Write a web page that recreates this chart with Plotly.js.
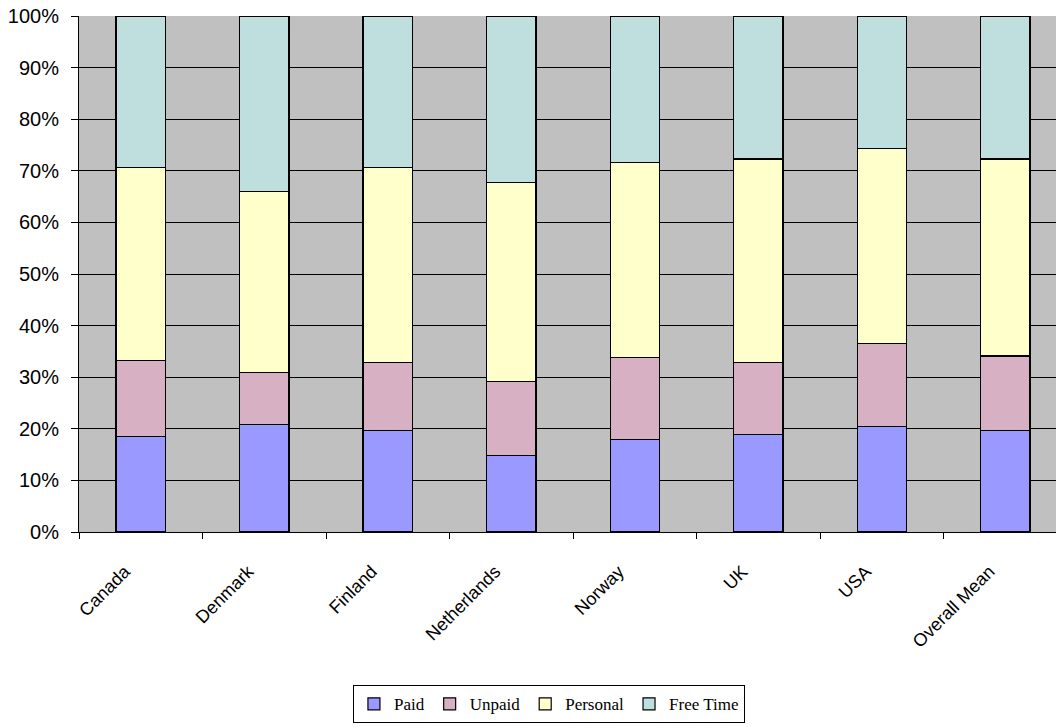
<!DOCTYPE html>
<html>
<head>
<meta charset="utf-8">
<script src="https://cdn.plot.ly/plotly-3.0.1.min.js"></script>
<style>html,body{margin:0;padding:0;background:#fff;}#chart{width:1056px;height:727px;}</style>
</head>
<body>
<div id="chart"></div>
<script>
const categories = ["Canada", "Denmark", "Finland", "Netherlands", "Norway", "UK", "USA", "Overall Mean"];
const paid     = [18.5, 20.9, 19.7, 14.8, 17.9, 18.9, 20.4, 19.7];
const unpaid   = [14.8, 10.0, 13.2, 14.4, 15.9, 14.0, 16.2, 14.4];
const personal = [37.3, 35.1, 37.8, 38.5, 37.8, 39.4, 37.8, 38.2];
const freeTime = [29.4, 34.0, 29.3, 32.3, 28.4, 27.7, 25.6, 27.7];
const seriesNames = ["Paid", "Unpaid", "Personal", "Free Time"];
const seriesColors = ["#9999FF", "#D8B0C4", "#FFFFCC", "#BFDFDF"];
const seriesValues = [paid, unpaid, personal, freeTime];

const traces = seriesValues.map((vals, i) => ({
  type: "bar",
  name: seriesNames[i],
  x: categories,
  y: vals,
  marker: {color: seriesColors[i], line: {color: "#000", width: 1.2}},
  hoverinfo: "skip"
}));

const layout = {
  width: 1056, height: 727,
  barmode: "stack",
  bargap: 0.6,
  paper_bgcolor: "#fff",
  plot_bgcolor: "#C0C0C0",
  margin: {l: 79, r: 0, t: 16, b: 195},
  font: {family: "Liberation Sans, Arial, sans-serif", color: "#000"},
  xaxis: {
    type: "category",
    range: [-0.5, 7.41],
    tickangle: -45,
    tickson: "boundaries",
    ticks: "outside", ticklen: 6, tickcolor: "#000", tickwidth: 1,
    showline: true, linecolor: "#000", linewidth: 1,
    showgrid: false,
    ticklabelstandoff: 21,
    ticklabelshift: -16,
    tickfont: {size: 18, family: "Liberation Sans, Arial, sans-serif"},
    fixedrange: true
  },
  yaxis: {
    range: [0, 100],
    dtick: 10,
    ticksuffix: "%",
    ticks: "outside", ticklen: 7, tickcolor: "#000",
    showline: true, linecolor: "#000", linewidth: 1,
    showgrid: true, gridcolor: "#000", gridwidth: 1,
    zeroline: false,
    ticklabelstandoff: 8,
    tickfont: {size: 20, family: "Liberation Sans, Arial, sans-serif"},
    fixedrange: true
  },
  legend: {
    orientation: "h",
    x: 0.481, xanchor: "center",
    y: -0.297, yanchor: "top",
    bordercolor: "#000", borderwidth: 1,
    itemwidth: 30,
    font: {family: "Liberation Serif, Times New Roman, serif", size: 17},
    traceorder: "normal"
  },
  showlegend: true
};

Plotly.newPlot("chart", traces, layout, {displayModeBar: false, staticPlot: true});
</script>
</body>
</html>
